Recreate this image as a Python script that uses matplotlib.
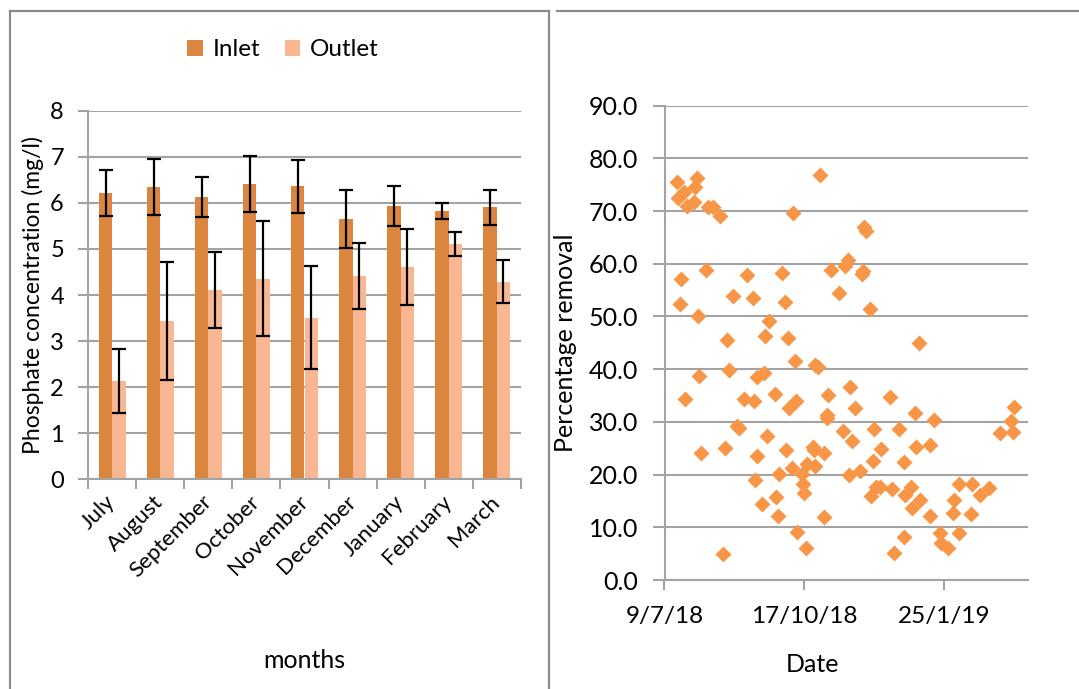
import matplotlib
matplotlib.use('Agg')
import matplotlib.pyplot as plt
import matplotlib.dates as mdates
import numpy as np
from matplotlib.lines import Line2D
from matplotlib.ticker import FixedLocator, FuncFormatter
from datetime import date, timedelta

plt.rcParams['font.family'] = ['Lato', 'DejaVu Sans']
plt.rcParams['font.size'] = 16

# monthly phosphate concentration (mg/l), mean and error
months = ['July', 'August', 'September', 'October', 'November',
          'December', 'January', 'February', 'March']
inlet = [6.21, 6.35, 6.13, 6.41, 6.36, 5.64, 5.93, 5.82, 5.90]
inlet_err = [0.50, 0.61, 0.44, 0.60, 0.58, 0.63, 0.44, 0.18, 0.37]
outlet = [2.13, 3.44, 4.11, 4.35, 3.51, 4.41, 4.61, 5.11, 4.29]
outlet_err = [0.69, 1.28, 0.83, 1.25, 1.12, 0.71, 0.83, 0.26, 0.47]

# percentage removal per sampling day
sample_dates = [
    '2018-07-18', '2018-07-19', '2018-07-23', '2018-07-25', '2018-08-01',
    '2018-07-31', '2018-07-30', '2018-08-09', '2018-08-13', '2018-08-18',
    '2018-10-28', '2018-10-09', '2018-11-29', '2018-11-30', '2018-07-21',
    '2018-07-20', '2018-08-08', '2018-08-02', '2018-09-06', '2018-08-27',
    '2018-09-10', '2018-10-01', '2018-10-03', '2018-09-22', '2018-09-19',
    '2018-10-05', '2018-08-23', '2018-11-05', '2018-11-17', '2018-11-15',
    '2018-11-11', '2018-11-27', '2018-11-28', '2018-12-03', '2019-01-07',
    '2018-10-10', '2018-10-25', '2018-10-27', '2018-08-24', '2018-08-03',
    '2018-09-13', '2018-09-18', '2018-11-19', '2018-07-24', '2018-08-04',
    '2018-08-21', '2018-08-20', '2018-08-30', '2018-08-31', '2018-09-04',
    '2018-09-11', '2018-09-20', '2018-09-13', '2018-09-12', '2018-09-17',
    '2018-09-26', '2018-10-06', '2018-10-11', '2018-09-29', '2018-10-04',
    '2018-09-27', '2018-09-28', '2018-10-08', '2018-10-15', '2018-10-16',
    '2018-10-17', '2018-10-12', '2018-10-18', '2018-10-19', '2018-10-23',
    '2018-10-24', '2018-10-25', '2018-10-31', '2018-11-02', '2018-11-02',
    '2018-11-03', '2018-10-31', '2018-11-14', '2018-11-20', '2018-11-22',
    '2018-11-18', '2018-11-26', '2018-12-05', '2018-12-06', '2018-12-04',
    '2018-12-07', '2018-12-10', '2018-12-11', '2018-12-17', '2018-12-19',
    '2018-12-20', '2018-12-24', '2018-12-27', '2018-12-28', '2019-01-01',
    '2019-01-02', '2018-12-27', '2019-01-04', '2019-01-05', '2019-01-08',
    '2019-01-15', '2019-01-18', '2019-01-15', '2019-01-22', '2019-01-23',
    '2019-01-28', '2019-02-01', '2019-01-31', '2019-02-05', '2019-02-05',
    '2019-02-14', '2019-02-13', '2019-02-20', '2019-02-26', '2019-03-06',
    '2019-03-14', '2019-03-16', '2019-03-15',
]
removal = [
    75.6, 72.4, 73.7, 71.0, 76.2, 74.5, 71.7, 70.8, 70.7, 69.0,
    76.8, 69.6, 66.9, 66.3, 57.1, 52.3, 58.8, 50.0, 57.9, 53.9,
    53.5, 58.3, 52.8, 49.2, 46.3, 46.0, 45.5, 58.8, 60.8, 59.5,
    54.4, 58.0, 58.6, 51.4, 44.9, 41.5, 40.8, 40.5, 39.8, 38.7,
    38.5, 39.2, 36.7, 34.4, 24.1, 25.0, 5.0, 29.3, 28.9, 34.4,
    34.0, 27.3, 23.5, 19.0, 14.5, 35.2, 32.7, 33.9, 20.1, 24.7,
    15.8, 12.1, 21.2, 20.2, 18.2, 16.6, 9.2, 6.1, 22.1, 25.2,
    24.6, 21.6, 24.1, 31.3, 30.7, 35.1, 11.9, 28.3, 26.4, 32.6,
    20.0, 20.7, 22.5, 28.6, 15.9, 17.7, 17.6, 24.9, 34.7, 17.3,
    5.1, 28.6, 22.4, 16.2, 17.6, 13.6, 8.1, 31.6, 25.3, 15.2,
    25.7, 30.4, 12.1, 9.0, 7.0, 6.0, 15.1, 12.7, 9.0, 18.3,
    18.2, 12.6, 16.1, 17.5, 27.8, 30.2, 32.8, 28.1,
]
date_ticks = ['2018-07-09', '2018-10-17', '2019-01-25']

W, H = 1079, 689
fig = plt.figure(figsize=(W / 100, H / 100), dpi=100)

def px_rect(x0, y0, x1, y1):
    return [x0 / W, 1 - y1 / H, (x1 - x0) / W, (y1 - y0) / H]

grid_c = '#a3a3a3'
inlet_c = '#dc853e'
outlet_c = '#f8b692'

# ---- bar chart ----
ax1 = fig.add_axes(px_rect(88.3, 110.7, 520.7, 479.3))
x = np.arange(len(months))
w = 0.28
ax1.bar(x - w / 2, inlet, w, color=inlet_c, label='Inlet', zorder=2)
ax1.bar(x + w / 2, outlet, w, color=outlet_c, label='Outlet', zorder=2)
ax1.errorbar(x - w / 2, inlet, yerr=inlet_err, fmt='none', ecolor='black',
             elinewidth=1.6, capsize=4.7, capthick=1.6, zorder=3)
ax1.errorbar(x + w / 2, outlet, yerr=outlet_err, fmt='none', ecolor='black',
             elinewidth=1.6, capsize=4.7, capthick=1.6, zorder=3)
ax1.set_xlim(-0.5, len(months) - 0.5)
ax1.set_ylim(0, 8)
ax1.set_yticks(range(0, 9))
ax1.yaxis.grid(True, color=grid_c, lw=1.5)
ax1.set_axisbelow(True)
ax1.set_xticks(x)
ax1.set_xticklabels(months, rotation=45, ha='right', va='center',
                    rotation_mode='anchor')
ax1.set_xticks(np.arange(-0.5, len(months)), minor=True)
ax1.tick_params(axis='x', which='major', length=0, pad=14)
ax1.tick_params(axis='x', which='minor', length=7, color=grid_c, width=1.5)
ax1.tick_params(axis='y', length=7.5, color=grid_c, width=1.5, pad=10,
                labelsize=17)
for s in ['top', 'right']:
    ax1.spines[s].set_visible(False)
for s in ['left', 'bottom']:
    ax1.spines[s].set_color(grid_c)
    ax1.spines[s].set_linewidth(1.5)
ax1.set_ylabel('Phosphate concentration (mg/l)', fontsize=16.5)
ax1.yaxis.set_label_coords(-0.103, 0.5)
fig.text(304.5 / W, 1 - 660 / H, 'months', ha='center', va='center',
         fontsize=18)
fig.legend(loc='center', bbox_to_anchor=(283 / W, 1 - 50 / H), ncol=2,
           frameon=False, handlelength=0.65, handleheight=0.65,
           handletextpad=0.4, columnspacing=1.0, fontsize=17.5)

# ---- scatter chart ----
ax2 = fig.add_axes(px_rect(664.5, 105.7, 1028, 580))
dts = mdates.datestr2num(sample_dates)
ax2.plot(dts, removal, linestyle='none', marker='D', ms=8.6,
         color='#f79646', mec='none', zorder=3)
d0 = date(2018, 7, 9)
ax2.set_xlim(mdates.date2num(d0), mdates.date2num(d0 + timedelta(days=260.5)))
ax2.set_ylim(0, 90)
ax2.set_yticks(range(0, 91, 10))
ax2.yaxis.set_major_formatter(FuncFormatter(lambda v, p: '%.1f' % v))
ax2.xaxis.set_major_locator(FixedLocator(mdates.datestr2num(date_ticks)))
ax2.xaxis.set_major_formatter(FuncFormatter(
    lambda v, p: '{d.day}/{d.month}/{y}'.format(d=mdates.num2date(v),
                                                y=mdates.num2date(v).year % 100)))
ax2.yaxis.grid(True, color=grid_c, lw=1.5)
ax2.set_axisbelow(True)
ax2.tick_params(axis='x', length=7.5, color=grid_c, width=1.5, pad=11,
                labelsize=17.5)
ax2.tick_params(axis='y', length=8.5, color=grid_c, width=1.5, pad=10.5,
                labelsize=18)
for s in ['top', 'right']:
    ax2.spines[s].set_visible(False)
for s in ['left', 'bottom']:
    ax2.spines[s].set_color(grid_c)
    ax2.spines[s].set_linewidth(1.5)
ax2.set_ylabel('Percentage removal', fontsize=18)
ax2.yaxis.set_label_coords(-0.24, 0.5)
fig.text(813 / W, 1 - 665 / H, 'Date', ha='center', va='center',
         fontsize=18)

# panel frames
frame_c = '#8c8c8c'
def frame(x0, y0, x1, y1):
    fig.add_artist(Line2D([x0 / W, x1 / W], [1 - y0 / H, 1 - y1 / H],
                          color=frame_c, lw=1.6, transform=fig.transFigure))

frame(9.5, 10.5, 9.5, 689)
frame(9.5, 10.5, 548.5, 10.5)
frame(548.5, 10.5, 548.5, 689)
frame(557, 10.5, 1079, 10.5)

fig.savefig('out.png', dpi=100)
